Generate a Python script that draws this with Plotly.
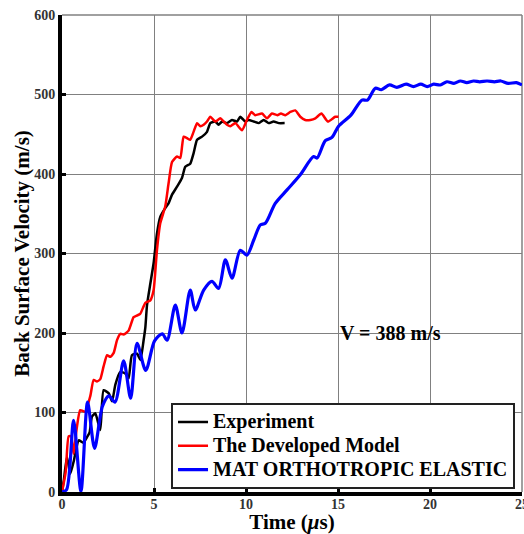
import plotly.graph_objects as go

# ---- data ----
exp_t = [0, 0.1, 0.27, 0.45, 0.65, 0.91, 1.15, 1.36, 1.5, 1.63,
         1.81, 2.08, 2.26, 2.54, 2.72, 2.9, 3.17, 3.44, 3.62, 3.8,
         4.08, 4.26, 4.43, 4.53, 4.62, 4.8, 4.98, 5.16, 5.34, 5.61,
         5.79, 5.98, 6.25, 6.52, 6.7, 6.97, 7.15, 7.34, 7.61, 7.88,
         8.06, 8.33, 8.51, 8.7, 8.97, 9.24, 9.51, 9.69, 9.96, 10.14,
         10.42, 10.7, 10.96, 11.23, 11.5, 11.78, 12.1]
exp_v = [0, 15, 44, 23, 40, 65, 62, 69, 75, 95,
         99, 78, 128, 124, 114, 135, 151, 149, 143, 172,
         174, 166, 190, 207, 235, 262, 288, 325, 346, 357,
         363, 374, 384, 395, 409, 413, 426, 443, 447, 453,
         464, 466, 462, 466, 464, 468, 466, 472, 466, 468,
         466, 464, 468, 464, 466, 464, 464]

dev_t = [0, 0.2, 0.36, 0.5, 0.63, 0.8, 0.99, 1.26, 1.54, 1.72,
         1.9, 2.08, 2.26, 2.45, 2.63, 2.81, 2.99, 3.17, 3.35, 3.62,
         3.89, 4.07, 4.25, 4.53, 4.8, 4.98, 5.16, 5.34, 5.61, 5.79,
         5.98, 6.25, 6.43, 6.61, 6.8, 6.97, 7.15, 7.34, 7.52, 7.7,
         7.88, 8.06, 8.33, 8.6, 8.79, 8.97, 9.15, 9.42, 9.78, 10.05,
         10.3, 10.5, 10.87, 11.14, 11.41, 11.7, 11.9, 12.14, 12.41, 12.68,
         12.95, 13.22, 13.5, 13.77, 14.1, 14.45, 14.85, 15.03]
dev_v = [0, 25, 70, 70, 48, 80, 103, 101, 121, 141,
         139, 142, 158, 172, 170, 175, 191, 199, 198, 203,
         220, 222, 224, 238, 241, 254, 304, 338, 359, 388,
         415, 422, 420, 447, 445, 443, 453, 464, 460, 462,
         466, 472, 466, 470, 466, 462, 460, 464, 455, 468,
         478, 474, 476, 470, 476, 474, 476, 474, 478, 480,
         472, 468, 468, 470, 476, 466, 472, 472]

mat_t = [0, 0.25, 0.63, 1.03, 1.39, 1.77, 2.2, 2.55, 2.88, 3.35,
         3.73, 4.08, 4.55, 5.03, 5.45, 5.71, 6.16, 6.52, 6.97, 7.24,
         7.7, 8.15, 8.51, 8.88, 9.24, 9.69, 10.05, 10.42, 10.78, 11.05,
         11.59, 12.23, 12.95, 13.67, 13.86, 14.31, 14.67, 15.03, 15.7, 16.3,
         16.6, 17.03, 17.35, 17.8, 18.2, 18.7, 19.1, 19.5, 19.85, 20.2,
         20.56, 20.92, 21.3, 21.65, 22.0, 22.37, 22.7, 23.1, 23.5, 23.85,
         24.25, 24.7, 25.0]
mat_v = [0, 3, 90, 1, 113, 55, 108, 121, 113, 165,
         118, 187, 153, 190, 199, 191, 235, 200, 254, 229,
         254, 265, 256, 292, 269, 304, 298, 317, 336, 338,
         363, 380, 399, 422, 420, 442, 446, 460, 474, 493,
         493, 508, 506, 512, 509, 513, 510, 513, 510, 513,
         512, 516, 514, 517, 515, 517, 516, 517, 516, 517,
         514, 515, 512]

x_ticks = [0, 5, 10, 15, 20, 25]
y_ticks = [0, 100, 200, 300, 400, 500, 600]

names = ["Experiment", "The Developed Model", "MAT ORTHOTROPIC ELASTIC"]
annotation_text = "V = 388 m/s"

FONT = "Liberation Serif"


def leg(name):
    return '<span style="font-size:20px">' + name + '</span>'


fig = go.Figure()
fig.add_trace(go.Scatter(x=exp_t, y=exp_v, mode="lines", name=leg(names[0]),
                         line=dict(color="#000000", width=2.5, shape="spline", smoothing=0.5)))
fig.add_trace(go.Scatter(x=dev_t, y=dev_v, mode="lines", name=leg(names[1]),
                         line=dict(color="#FF0000", width=2.5, shape="spline", smoothing=0.5)))
fig.add_trace(go.Scatter(x=mat_t, y=mat_v, mode="lines", name=leg(names[2]),
                         line=dict(color="#0000FF", width=3.2, shape="spline", smoothing=0.8)))

axis_common = dict(
    showgrid=True, gridcolor="#808080", gridwidth=1,
    showline=True, linecolor="#000000", linewidth=4,
    ticks="inside", ticklen=4, tickwidth=3, tickcolor="#000000",
    tickfont=dict(family=FONT, size=14, color="#333333", weight="bold"),
    zeroline=False, ticklabeloverflow="allow", automargin=False,
)

fig.update_layout(
    width=524, height=534,
    margin=dict(l=62, r=2, t=15, b=42),
    paper_bgcolor="white", plot_bgcolor="white",
    xaxis=dict(range=[0, 25], tickvals=x_ticks, ticklabelstandoff=-4,
               title=dict(text="Time (<i>μ</i>s)",
                          font=dict(family=FONT, size=21, color="#000000", weight="bold")),
               **axis_common),
    yaxis=dict(range=[0, 600], tickvals=y_ticks,
               title=dict(text="Back Surface Velocity (m/s)", standoff=0,
                          font=dict(family=FONT, size=21, color="#000000", weight="bold")),
               **axis_common),
    legend=dict(x=0.237, y=0.006, xanchor="left", yanchor="bottom",
                bgcolor="white", bordercolor="#222222", borderwidth=2,
                font=dict(family=FONT, size=16, color="#000000", weight="bold"),
                itemwidth=30, tracegroupgap=0),
    showlegend=True,
    shapes=[
        dict(type="line", xref="paper", yref="paper", x0=1, x1=1, y0=0, y1=1,
             line=dict(color="#808080", width=1.5), layer="below"),
        dict(type="line", xref="paper", yref="paper", x0=0, x1=1, y0=1, y1=1,
             line=dict(color="#808080", width=1.5), layer="below"),
    ],
    annotations=[dict(x=15, y=200, xref="x", yref="y", xanchor="left", yanchor="middle",
                      text=annotation_text, showarrow=False,
                      font=dict(family=FONT, size=20, color="#000000", weight="bold"))],
)

fig.write_html("out.html")
